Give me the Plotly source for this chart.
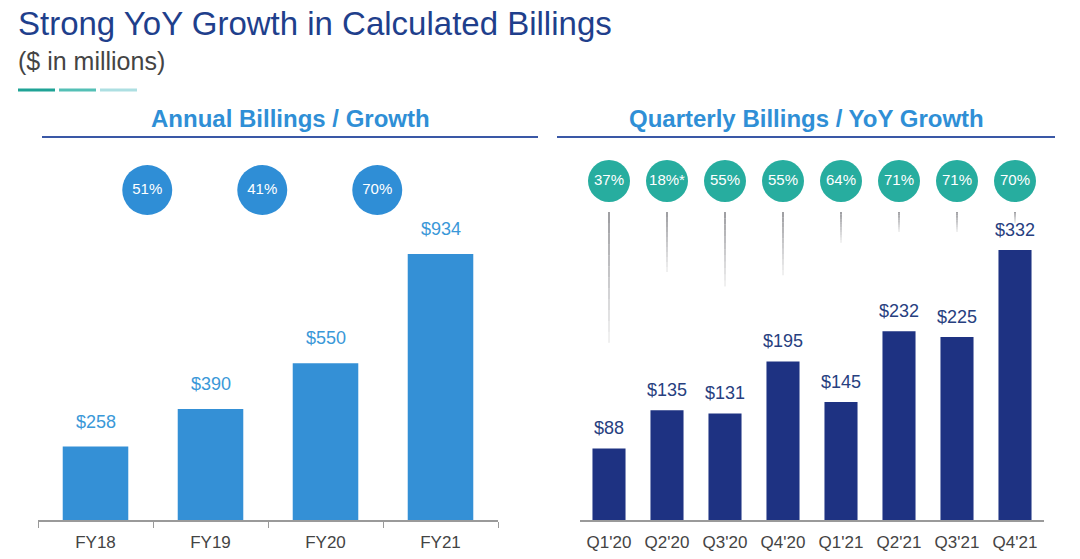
import plotly.graph_objects as go

# ---- data ----
annual_labels = ["FY18", "FY19", "FY20", "FY21"]
annual_values = [258, 390, 550, 934]
annual_growth = ["51%", "41%", "70%"]          # growth of FY19, FY20, FY21

quarter_labels = ["Q1'20", "Q2'20", "Q3'20", "Q4'20", "Q1'21", "Q2'21", "Q3'21", "Q4'21"]
quarter_values = [88, 135, 131, 195, 145, 232, 225, 332]
quarter_growth = ["37%", "18%*", "55%", "55%", "64%", "71%", "71%", "70%"]

# decorative connector lengths (bottom end of each fading line, right-axis units)
connector_ends = [218, 305, 287, 301, 341, 354, 354, 365]

# ---- styles ----
FONT = "Liberation Sans, Arial, sans-serif"
C_LEFT_BAR = "#3490d6"
C_LEFT_LBL = "#3a98d8"
C_LEFT_CIRC = "#2f8ed6"
C_RIGHT_BAR = "#1e3282"
C_RIGHT_LBL = "#27407f"
C_TEAL = "#27ad9f"
C_HEAD = "#2f8fd6"
C_TITLE = "#1f3f8c"
C_AXIS = "#9a9a9a"

W, H = 1080, 559
def px_x(p): return p / W
def px_y(p): return (H - p) / H

y_bot, y_top = 520, 150
left_scale = 266 / 934.0
right_scale = 270 / 332.0
left_range = [0, (y_bot - y_top) / left_scale]
right_range = [0, (y_bot - y_top) / right_scale]

fig = go.Figure()

n_a = len(annual_labels)
n_q = len(quarter_labels)
xa = list(range(n_a))
xq = list(range(n_q))

fig.add_trace(go.Bar(x=xa, y=annual_values, width=0.57, marker=dict(color=C_LEFT_BAR, line=dict(width=0)),
                     xaxis="x", yaxis="y", hoverinfo="skip"))
fig.add_trace(go.Bar(x=xq, y=quarter_values, width=0.57, marker=dict(color=C_RIGHT_BAR, line=dict(width=0)),
                     xaxis="x2", yaxis="y2", hoverinfo="skip"))

# growth circles - annual (between bars)
circ_y_left = (y_bot - 190) / left_scale
fig.add_trace(go.Scatter(x=[i - 0.55 for i in range(1, n_a)], y=[circ_y_left] * (n_a - 1),
                         mode="markers+text", text=annual_growth, textposition="middle center",
                         textfont=dict(color="white", size=15, family=FONT),
                         marker=dict(size=50, color=C_LEFT_CIRC, line=dict(width=0)),
                         xaxis="x", yaxis="y", hoverinfo="skip"))

# connectors (fading gray lines) - right
conn_top = (y_bot - 212) / right_scale
shapes = []
segs = 12
for i, end in enumerate(connector_ends):
    for s in range(segs):
        y0 = conn_top - (conn_top - end) * s / segs
        y1 = conn_top - (conn_top - end) * (s + 1) / segs
        a = 0.8 * (1 - s / segs) + 0.08
        shapes.append(dict(type="line", xref="x2", yref="y2", x0=i, x1=i, y0=y0, y1=y1,
                           line=dict(color=f"rgba(135,135,140,{a:.3f})", width=1.8)))

circ_y_right = (y_bot - 181) / right_scale
fig.add_trace(go.Scatter(x=xq, y=[circ_y_right] * n_q,
                         mode="markers+text", text=quarter_growth, textposition="middle center",
                         textfont=dict(color="white", size=15, family=FONT),
                         marker=dict(size=42, color=C_TEAL, line=dict(width=0)),
                         xaxis="x2", yaxis="y2", hoverinfo="skip"))

annotations = []
for i, v in enumerate(annual_values):
    annotations.append(dict(x=i, y=v, xref="x", yref="y", text=f"${v}", showarrow=False,
                            yanchor="middle", yshift=25, font=dict(size=18, color=C_LEFT_LBL, family=FONT)))
for i, v in enumerate(quarter_values):
    annotations.append(dict(x=i, y=v, xref="x2", yref="y2", text=f"${v}", showarrow=False,
                            yanchor="middle", yshift=20, font=dict(size=18, color=C_RIGHT_LBL, family=FONT)))

# titles
annotations += [
    dict(x=px_x(16), y=px_y(24), xref="paper", yref="paper", xanchor="left", yanchor="middle",
         text="Strong YoY Growth in Calculated Billings", showarrow=False,
         font=dict(size=33, color=C_TITLE, family=FONT)),
    dict(x=px_x(16), y=px_y(61), xref="paper", yref="paper", xanchor="left", yanchor="middle",
         text="($ in millions)", showarrow=False, font=dict(size=25, color="#444444", family=FONT)),
    dict(x=px_x(290), y=px_y(118), xref="paper", yref="paper", xanchor="center", yanchor="middle",
         text="<b>Annual Billings / Growth</b>", showarrow=False, font=dict(size=24, color=C_HEAD, family=FONT)),
    dict(x=px_x(806), y=px_y(118), xref="paper", yref="paper", xanchor="center", yanchor="middle",
         text="<b>Quarterly Billings / YoY Growth</b>", showarrow=False, font=dict(size=24, color=C_HEAD, family=FONT)),
]

# header rules and accent dashes
shapes += [
    dict(type="line", xref="paper", yref="paper", x0=px_x(42), x1=px_x(538), y0=px_y(137), y1=px_y(137),
         line=dict(color="#3a58a6", width=2)),
    dict(type="line", xref="paper", yref="paper", x0=px_x(557), x1=px_x(1055), y0=px_y(137), y1=px_y(137),
         line=dict(color="#3a58a6", width=2)),
    dict(type="line", xref="paper", yref="paper", x0=px_x(18), x1=px_x(55), y0=px_y(90), y1=px_y(90),
         line=dict(color="#1fa396", width=3)),
    dict(type="line", xref="paper", yref="paper", x0=px_x(59), x1=px_x(96), y0=px_y(90), y1=px_y(90),
         line=dict(color="#54c0b6", width=3)),
    dict(type="line", xref="paper", yref="paper", x0=px_x(100), x1=px_x(137), y0=px_y(90), y1=px_y(90),
         line=dict(color="#addfe2", width=3)),
]

axis_common = dict(showgrid=False, zeroline=False, showline=True, linecolor=C_AXIS, linewidth=1.5,
                   tickfont=dict(size=17, color="#444444", family=FONT), ticks="", fixedrange=True)

fig.update_layout(
    width=W, height=H, margin=dict(l=0, r=0, t=0, b=0),
    paper_bgcolor="white", plot_bgcolor="rgba(0,0,0,0)", showlegend=False,
    font=dict(family=FONT),
    xaxis=dict(domain=[px_x(38), px_x(498)], range=[-0.5, n_a - 0.5], tickvals=xa, ticktext=annual_labels,
               minor=dict(tickmode="linear", tick0=-0.5, dtick=1, ticks="outside", ticklen=6,
                          tickcolor=C_AXIS, tickwidth=1.2),
               anchor="y", ticklabelstandoff=6, **axis_common),
    yaxis=dict(domain=[px_y(y_bot), px_y(y_top)], range=left_range, visible=False, fixedrange=True),
    xaxis2=dict(domain=[px_x(580), px_x(1044)], range=[-0.5, n_q - 0.5], tickvals=xq, ticktext=quarter_labels,
                anchor="y2", ticklabelstandoff=6, **axis_common),
    yaxis2=dict(domain=[px_y(y_bot), px_y(y_top)], range=right_range, visible=False, fixedrange=True, anchor="x2"),
    shapes=shapes, annotations=annotations,
)

fig.write_html("out.html", config={"displayModeBar": False},
               post_script="document.body.style.margin='0';document.body.style.overflow='hidden';")
